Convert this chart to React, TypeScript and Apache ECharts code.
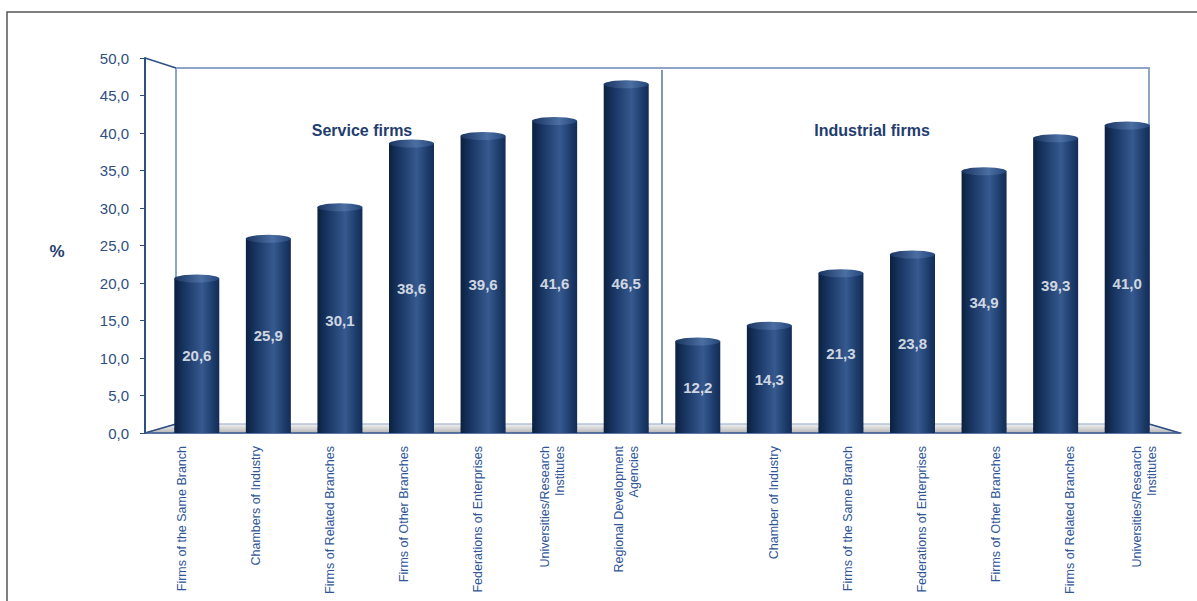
import React, { useEffect, useRef } from "react";
import * as echarts from "echarts";

const categories: string[] = [
  "Firms of the Same Branch",
  "Chambers of Industry",
  "Firms of Related Branches",
  "Firms of Other Branches",
  "Federations of Enterprises",
  "Universities/Research\nInstitutes",
  "Regional Development\nAgencies",
  "",
  "Chamber of Industry",
  "Firms of the Same Branch",
  "Federations of Enterprises",
  "Firms of Other Branches",
  "Firms of Related Branches",
  "Universities/Research\nInstitutes",
];

const serviceValues: number[] = [20.6, 25.9, 30.1, 38.6, 39.6, 41.6, 46.5];
const industrialValues: number[] = [12.2, 14.3, 21.3, 23.8, 34.9, 39.3, 41.0];
const values: number[] = [...serviceValues, ...industrialValues];

const yTicks: number[] = [0, 5, 10, 15, 20, 25, 30, 35, 40, 45, 50];
const groupTitles: string[] = ["Service firms", "Industrial firms"];

const fmt = (v: number) => v.toFixed(1).replace(".", ",");

export default function App() {
  const ref = useRef<HTMLDivElement>(null);
  useEffect(() => {
    if (!ref.current) return;
    const chart = echarts.init(ref.current, undefined, { renderer: "svg" });
    const barGrad = new echarts.graphic.LinearGradient(0, 0, 1, 0, [
      { offset: 0, color: "#0c2040" },
      { offset: 0.25, color: "#1a3866" },
      { offset: 0.62, color: "#36598f" },
      { offset: 0.85, color: "#1d3d6c" },
      { offset: 1, color: "#132c55" },
    ]);
    const topGrad = new echarts.graphic.LinearGradient(0, 0, 1, 0, [
      { offset: 0, color: "#1a3460" },
      { offset: 0.6, color: "#4c6fa3" },
      { offset: 1, color: "#23457a" },
    ]);
    const blue = "#2f4f80";
    const wall = "#8fa5c6";
    const option: any = {
      animation: false,
      grid: [
        { left: 161, width: 1002, top: 58, height: 375, outerBoundsMode: "none", containLabel: false },
        { left: 145, width: 1036, top: 58, height: 375, outerBoundsMode: "none", containLabel: false },
      ],
      xAxis: [
        {
          type: "category",
          gridIndex: 0,
          data: categories,
          show: false,
        },
        {
          type: "category",
          gridIndex: 1,
          data: categories,
          axisLine: { lineStyle: { color: "#3a5a8f", width: 1.5 } },
          axisTick: { length: 5, lineStyle: { color: "#3a5a8f" } },
          axisLabel: {
            interval: 0,
            rotate: 90,
            margin: 13,
            color: "#2f5597",
            fontFamily: "Liberation Sans Narrow, Arial, sans-serif",
            fontSize: 12.5,
            lineHeight: 15,
          },
        },
      ],
      yAxis: [
        { type: "value", gridIndex: 0, min: 0, max: 50, interval: 5, show: false },
        {
          type: "value",
          gridIndex: 1,
          min: 0,
          max: 50,
          interval: 5,
          axisLine: { show: true, lineStyle: { color: blue, width: 2 } },
          axisTick: { show: true, length: 5, lineStyle: { color: blue } },
          splitLine: { show: false },
          axisLabel: {
            color: blue,
            fontFamily: "Arial, Liberation Sans, sans-serif",
            fontSize: 15,
            margin: 16,
            formatter: (v: number) => (yTicks.includes(v) ? fmt(v) : ""),
          },
        },
      ],
      graphic: [
        {
          type: "rect",
          shape: { x: 7, y: 12, width: 1200, height: 600 },
          style: { fill: "none", stroke: "#555", lineWidth: 1.5 },
          z: 0,
        },
        {
          type: "polygon",
          shape: { points: [[145, 433], [176, 424], [1149, 424], [1180, 433]] },
          style: {
            fill: new echarts.graphic.LinearGradient(0, 0, 0, 1, [
              { offset: 0, color: "#f2f2f2" },
              { offset: 1, color: "#b5b5b5" },
            ]),
            stroke: wall,
            lineWidth: 1,
          },
          z: 0,
        },
        {
          type: "polyline",
          shape: { points: [[176, 424], [176, 68], [1149, 68], [1149, 424]] },
          style: { fill: "none", stroke: wall, lineWidth: 2 },
          z: 0,
        },
        {
          type: "line",
          shape: { x1: 145, y1: 58, x2: 176, y2: 68 },
          style: { stroke: blue, lineWidth: 1.5 },
        },
        {
          type: "line",
          shape: { x1: 145, y1: 433, x2: 176, y2: 424 },
          style: { stroke: blue, lineWidth: 1.5 },
        },
        {
          type: "line",
          shape: { x1: 1149, y1: 424, x2: 1180, y2: 433 },
          style: { stroke: blue, lineWidth: 1.5 },
        },
        {
          type: "line",
          shape: { x1: 662, y1: 70, x2: 662, y2: 424 },
          style: { stroke: blue, lineWidth: 1.2 },
          z: 0,
        },
        {
          type: "text",
          x: 362,
          y: 130,
          style: {
            text: groupTitles[0],
            fill: "#1f3d6e",
            font: "bold 16px Arial, Liberation Sans, sans-serif",
            align: "center",
            verticalAlign: "middle",
          },
        },
        {
          type: "text",
          x: 872,
          y: 130,
          style: {
            text: groupTitles[1],
            fill: "#1f3d6e",
            font: "bold 16px Arial, Liberation Sans, sans-serif",
            align: "center",
            verticalAlign: "middle",
          },
        },
        {
          type: "text",
          x: 57,
          y: 251,
          style: {
            text: "%",
            fill: "#1f3d6e",
            font: "bold 17px Arial, Liberation Sans, sans-serif",
            align: "center",
            verticalAlign: "middle",
          },
        },
      ],
      series: [
        {
          type: "bar",
          xAxisIndex: 0,
          yAxisIndex: 0,
          data: values,
          barWidth: 45,
          itemStyle: { color: barGrad },
          z: 3,
        },
        {
          type: "pictorialBar",
          xAxisIndex: 0,
          yAxisIndex: 0,
          data: values,
          symbol: "circle",
          symbolSize: [45, 8],
          symbolPosition: "end",
          symbolOffset: [0, "-50%"],
          itemStyle: { color: topGrad },
          z: 4,
        },
        {
          type: "pictorialBar",
          xAxisIndex: 0,
          yAxisIndex: 0,
          data: values,
          symbol: "circle",
          symbolSize: [45, 6],
          symbolPosition: "start",
          symbolOffset: [0, "-20%"],
          itemStyle: { color: barGrad },
          z: 2,
        },
        {
          type: "scatter",
          xAxisIndex: 0,
          yAxisIndex: 0,
          data: values.map((v, i) => [i, Math.min(v / 2, 20)]),
          symbolSize: 0,
          silent: true,
          label: {
            show: true,
            position: "inside",
            color: "#ffffff",
            fontWeight: "bold",
            fontSize: 15,
            fontFamily: "Arial, Liberation Sans, sans-serif",
            formatter: (p: any) => fmt(values[p.dataIndex]),
          },
          z: 5,
        },
      ],
    };
    chart.setOption(option);
    return () => chart.dispose();
  }, []);
  return (
    <div
      ref={ref}
      style={{ position: "fixed", left: 0, top: 0, width: 1197, height: 601, background: "#fff" }}
    />
  );
}
